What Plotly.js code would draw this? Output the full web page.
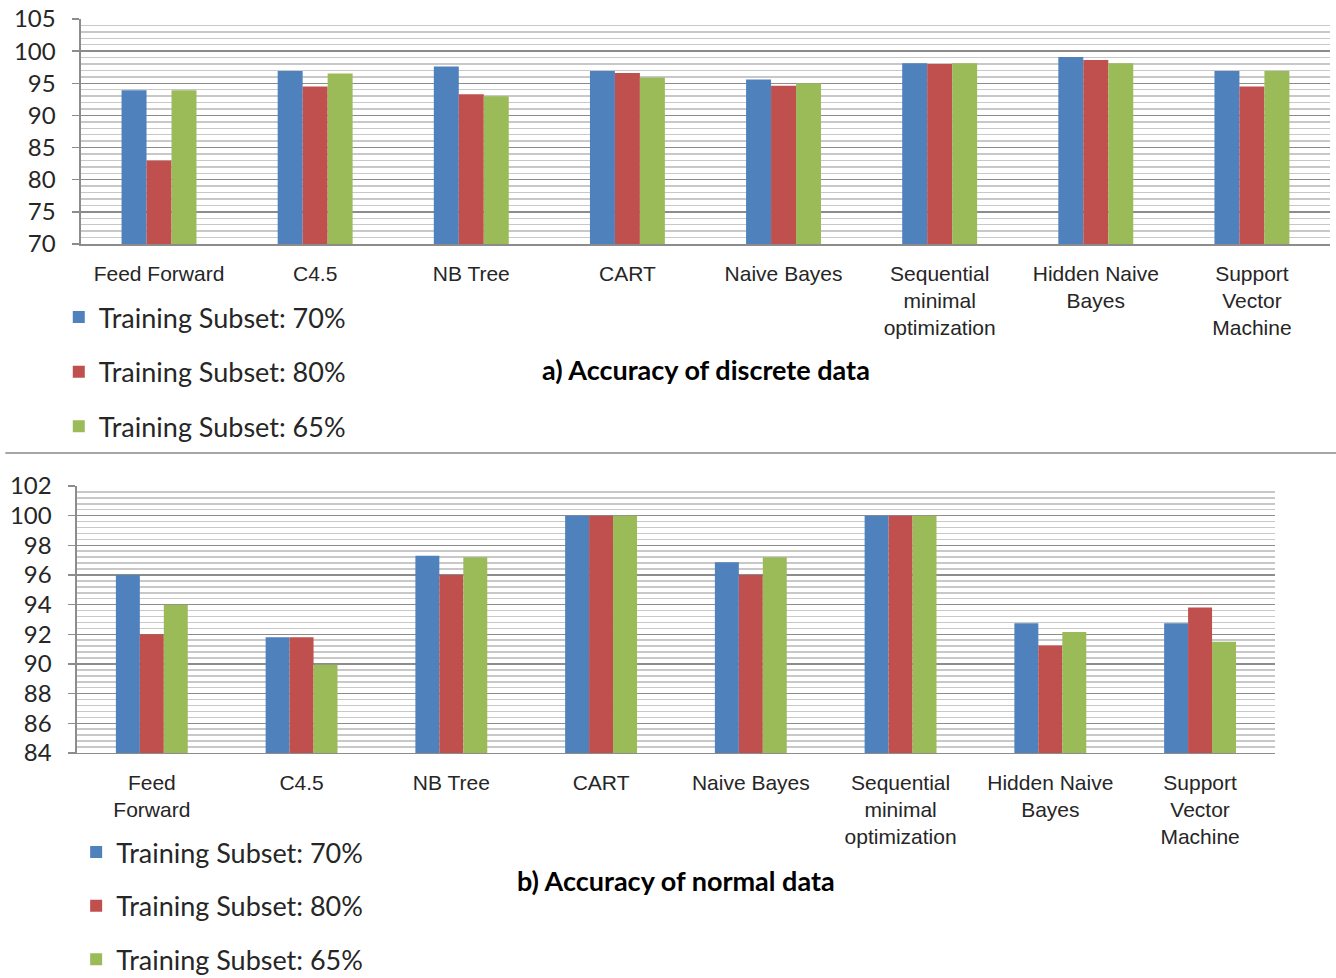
<!DOCTYPE html>
<html>
<head>
<meta charset="utf-8">
<script src="https://cdn.plot.ly/plotly-3.0.1.min.js"></script>
<style>html,body{margin:0;padding:0;background:#fff;overflow:hidden;}#chart{width:1336px;height:978px;}</style>
</head>
<body>
<div id="chart"></div>
<script>
// Categories (tick labels)
var categoriesTop = ["Feed Forward", "C4.5", "NB Tree", "CART", "Naive Bayes", "Sequential<br>minimal<br>optimization", "Hidden Naive<br>Bayes", "Support<br>Vector<br>Machine"];
var categoriesBottom = ["Feed<br>Forward", "C4.5", "NB Tree", "CART", "Naive Bayes", "Sequential<br>minimal<br>optimization", "Hidden Naive<br>Bayes", "Support<br>Vector<br>Machine"];
var seriesNames = ["Training Subset: 70%", "Training Subset: 80%", "Training Subset: 65%"];

// a) Accuracy of discrete data
var discrete70 = [93.9, 96.9, 97.6, 96.9, 95.6, 98.1, 99.1, 96.9];
var discrete80 = [83.0, 94.5, 93.3, 96.6, 94.6, 98.0, 98.6, 94.5];
var discrete65 = [93.9, 96.5, 93.0, 95.9, 95.0, 98.1, 98.1, 96.9];

// b) Accuracy of normal data
var normal70 = [96.0, 91.8, 97.3, 100, 96.85, 100, 92.75, 92.75];
var normal80 = [92.0, 91.8, 96.0, 100, 96.0, 100, 91.25, 93.8];
var normal65 = [94.0, 89.95, 97.2, 100, 97.2, 100, 92.15, 91.5];

var titleTop = "a) Accuracy of discrete data";
var titleBottom = "b) Accuracy of normal data";

var colors = ["#4F81BD", "#C0504D", "#9BBB59"];

var traces = [];
var topVals = [discrete70, discrete80, discrete65];
var botVals = [normal70, normal80, normal65];
for (var i = 0; i < 3; i++) {
  traces.push({type: "bar", x: categoriesTop, y: topVals[i], name: seriesNames[i],
    marker: {color: colors[i], line: {width: 0}}, xaxis: "x", yaxis: "y",
    legend: "legend", legendgroup: "t" + i, hoverinfo: "y"});
}
for (var j = 0; j < 3; j++) {
  traces.push({type: "bar", x: categoriesBottom, y: botVals[j], name: seriesNames[j],
    marker: {color: colors[j], line: {width: 0}}, xaxis: "x2", yaxis: "y2",
    legend: "legend2", legendgroup: "b" + j, hoverinfo: "y"});
}

var tickFontX = {family: "Liberation Sans, Arial, sans-serif", size: 21, color: "#262626"};
var tickFontY = {family: "Lato, Calibri, sans-serif", size: 24, color: "#262626"};
var legFont = {family: "Lato, Calibri, sans-serif", size: 27, color: "#262626"};

var yCommon = {
  showgrid: true, gridcolor: "#8c8c8c", gridwidth: 1.5,
  showline: true, linecolor: "#8c8c8c", linewidth: 1.5,
  ticks: "outside", ticklen: 7, tickcolor: "#8c8c8c", tickwidth: 1.5,
  tickfont: tickFontY, zeroline: false, ticklabelstandoff: 12, fixedrange: true, automargin: false
};
var xCommon = {
  showline: true, linecolor: "#8c8c8c", linewidth: 1.5, ticks: "",
  tickfont: tickFontX, showgrid: false, fixedrange: true, tickangle: 0,
  ticklabelstandoff: 10, automargin: false
};

var layout = {
  width: 1336, height: 978,
  margin: {l: 0, r: 0, t: 0, b: 0, autoexpand: false},
  paper_bgcolor: "#ffffff", plot_bgcolor: "#ffffff",
  barmode: "group", bargap: 0.52, bargroupgap: 0,
  showlegend: true,
  xaxis: Object.assign({}, xCommon, {domain: [0.0606, 0.9955], anchor: "y"}),
  yaxis: Object.assign({}, yCommon, {domain: [0.7505, 0.9806], anchor: "x", range: [70, 105], dtick: 5,
    minor: {dtick: 1, showgrid: true, gridcolor: "#c8c8c8", gridwidth: 1.5}}),
  xaxis2: Object.assign({}, xCommon, {domain: [0.0576, 0.9543], anchor: "y2"}),
  yaxis2: Object.assign({}, yCommon, {domain: [0.2301, 0.5031], anchor: "x2", range: [84, 102], dtick: 2,
    minor: {dtick: 0.4, showgrid: true, gridcolor: "#c8c8c8", gridwidth: 1.5}}),
  legend: {x: 0.044, y: 1 - 293/978, xanchor: "left", yanchor: "top", font: legFont,
    traceorder: "grouped", tracegroupgap: 16.5, bgcolor: "rgba(0,0,0,0)", itemclick: false, itemdoubleclick: false},
  legend2: {x: 0.057, y: 1 - 828/978, xanchor: "left", yanchor: "top", font: legFont,
    traceorder: "grouped", tracegroupgap: 15.5, bgcolor: "rgba(0,0,0,0)", itemclick: false, itemdoubleclick: false},
  annotations: [
    {text: "<b>" + titleTop + "</b>", xref: "paper", yref: "paper", x: 706/1336, y: 1 - 370/978,
      xanchor: "center", yanchor: "middle", showarrow: false,
      font: {family: "Lato, Calibri, sans-serif", size: 27, color: "#000"}},
    {text: "<b>" + titleBottom + "</b>", xref: "paper", yref: "paper", x: 676/1336, y: 1 - 880/978,
      xanchor: "center", yanchor: "middle", showarrow: false,
      font: {family: "Lato, Calibri, sans-serif", size: 27, color: "#000"}}
  ],
  shapes: [
    {type: "line", xref: "paper", yref: "paper", x0: 0.004, x1: 1, y0: 1 - 453/978, y1: 1 - 453/978,
      line: {color: "#a6a6a6", width: 2}}
  ]
};

Plotly.newPlot("chart", traces, layout, {displayModeBar: false, staticPlot: true});
</script>
</body>
</html>
